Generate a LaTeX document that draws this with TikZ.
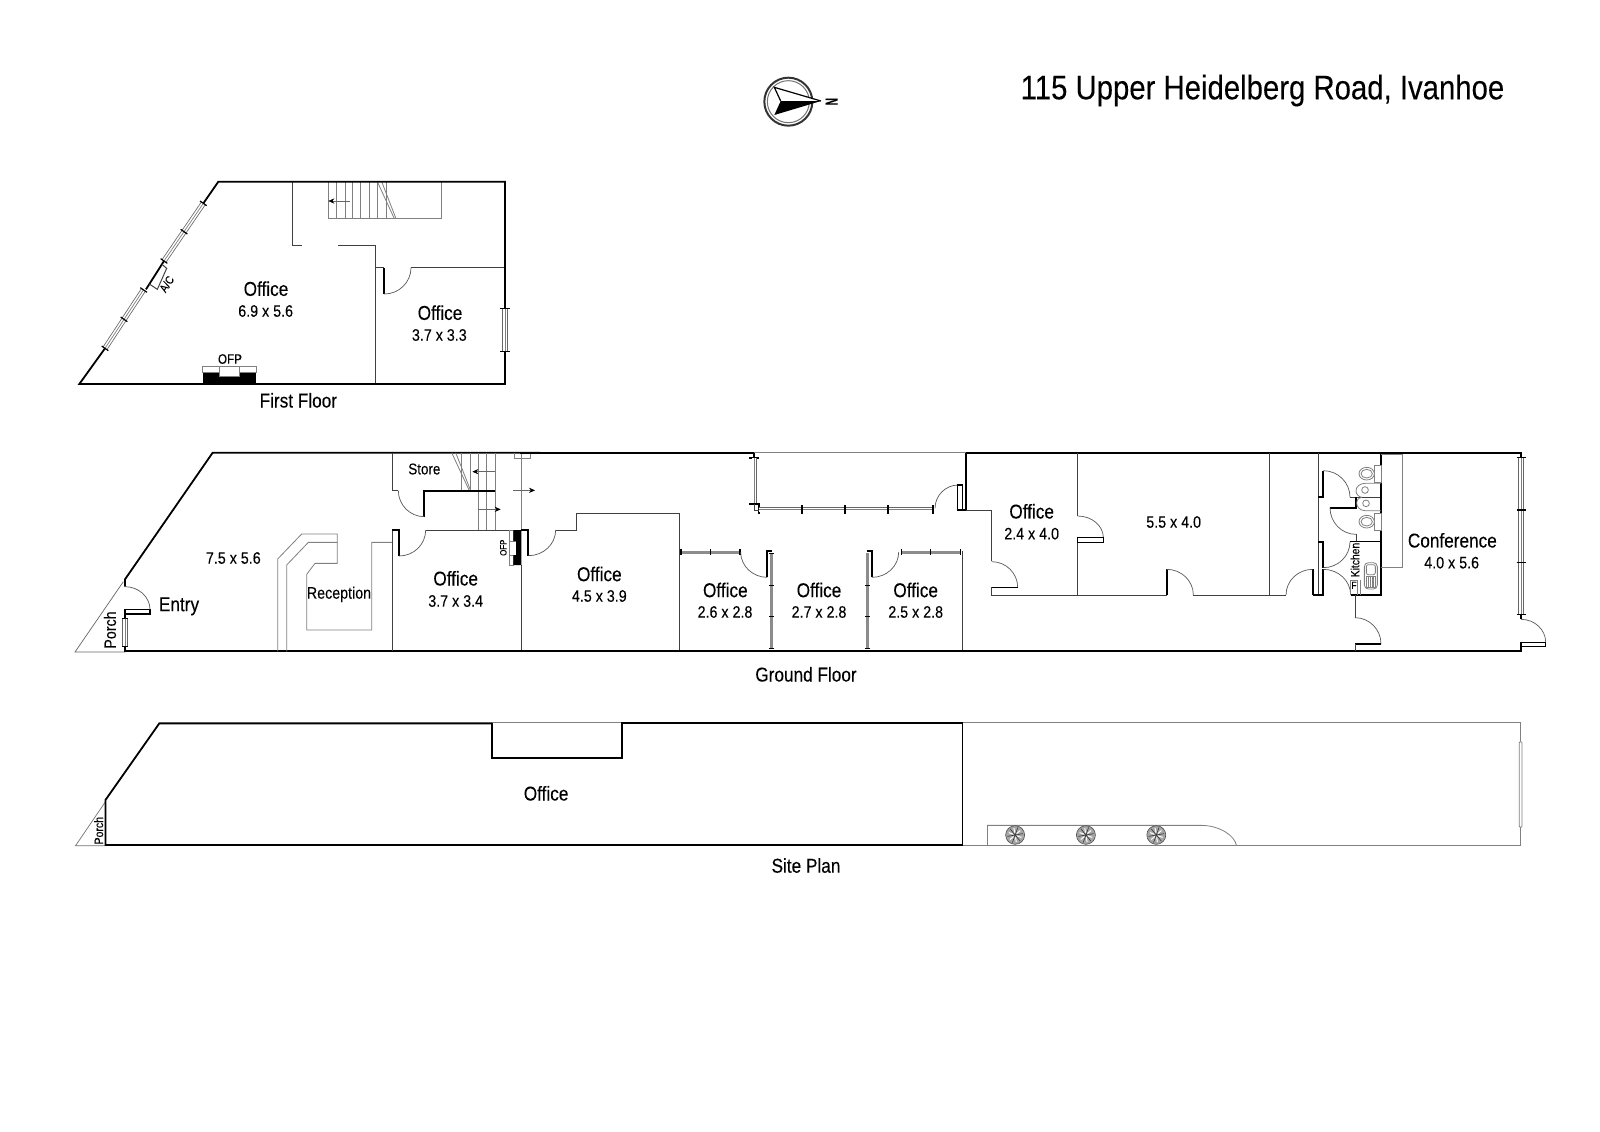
\documentclass[tikz,border=0pt]{standalone}
\usepackage{fontspec}
\setmainfont[FakeStretch=0.86,FakeBold=0.12]{Liberation Sans}
\usetikzlibrary{calc,arrows.meta}
\tikzset{
 zm/.style n args={4}{shift={(#1,#2)},x=#3pt,y=-#4pt},
 wall/.style={draw=black,line width=0.9pt,line join=miter},
 thin wall/.style={draw=black!75,line width=0.5pt},
 faint/.style={draw=black!50,line width=0.4pt},
 arcl/.style={draw=black!65,line width=0.35pt},
 tickl/.style={draw=black,line width=0.6pt},
 winb/.style={draw=black!60,line width=0.4pt,double=white,double distance=1.9pt},
 winc/.style={draw=black!50,line width=0.35pt},
 winf/.style={draw=black!45,line width=1.5pt},
 leaf/.style={draw=black,line width=0.7pt,fill=white},
 arrowl/.style={draw=black!60,line width=0.3pt,-{Stealth[length=3pt,width=2.6pt,black]}},
 lab/.style={inner sep=0pt,font=\fontsize{10}{11}\selectfont},
 dimn/.style={inner sep=0pt,font=\fontsize{8.3}{9}\selectfont},
 smalll/.style={inner sep=0pt,font=\fontsize{8.3}{9}\selectfont},
 tiny l/.style={inner sep=0pt,font=\fontsize{5.8}{7}\selectfont},
}
\newcommand\qa[3]{\draw[arcl] (#1) .. controls ($(#1)!0.5523!(#2)$) and ($(#3)!0.5523!(#2)$) .. (#3);}
\newcommand\win[2]{\draw[winb] (#1) -- (#2); \draw[winc] (#1) -- (#2);}
\begin{document}
\begin{tikzpicture}[x=0.5pt,y=-0.5pt]
\useasboundingbox (0,0) rectangle (1600,1131);
\fill[white] (0,0) rectangle (1600,1131);
% title
\node[inner sep=0pt,font=\fontsize{17.05}{18}\selectfont] (title) at (1262.5,90.5) {115 Upper Heidelberg Road, Ivanhoe};
% compass
\begin{scope}[zm={740}{50}{0.16667}{0.16667}]
\draw[draw=black!80,line width=1pt] (145,155) circle[radius=72];
\draw[draw=black!55,line width=0.5pt] (145,155) circle[radius=63];
\fill[white] (243,153) -- (103,112) -- (122,153) -- cycle;
\draw[black,line width=0.6pt] (122,153) -- (103,112) -- (243,153);
\fill[black] (243,153) -- (122,153) -- (103,195) -- cycle;
\node[inner sep=0pt,rotate=90,xscale=0.67,font=\fontsize{8.8}{10}\bfseries\selectfont] (north) at (275,155) {N};
\end{scope}
% ---------- First floor
\begin{scope}[zm={60}{160}{0.16667}{0.16667}]
\draw[faint] (805,65) -- (805,176) -- (1145,176) -- (1145,65);
\foreach \x in {830,855,878,902,928,952,978} \draw[faint] (\x,65) -- (\x,176);
\draw[faint] (952,65) -- (1003,176);
\draw[faint] (965,65) -- (1008,176);
\draw[arrowl] (870,123) -- (805,123);
\draw[thin wall] (697,65) -- (697,257) -- (725,257);
\draw[thin wall] (835,257) -- (947,257) -- (947,672);
\draw[thin wall] (947,323) -- (973,323);
\draw[thin wall] (1053,323) -- (1335,323);
\draw[wall] (973,323) -- (973,402);
\qa{973,402}{1053,402}{1053,323}
% outer
\draw[wall] (430,130) -- (475,65) -- (1335,65) -- (1335,445);
\draw[wall] (1335,575) -- (1335,672) -- (58,672) -- (135,565);
\draw[wall] (312,303) -- (258,388);
\win{430,130}{312,303}
\win{250,390}{135,565}
\foreach \a/\b/\c/\d in {420/123/440/137, 362/208/382/222, 302/296/322/310, 241/383/261/397, 182/471/202/485, 125/558/145/572} \draw[tickl] (\a,\b) -- (\c,\d);
\draw[thin wall] (306,313) -- (320,325) -- (292,388) -- (268,372);
\node[tiny l,rotate=57] (ac) at (320,372) {A/C};
\draw[winb] (1335,445) -- (1335,575);
\draw[winc] (1335,445) -- (1335,575);
\draw[tickl] (1320,445) -- (1350,445);
\draw[tickl] (1320,575) -- (1350,575);
% fireplace
\fill[black] (430,636) rectangle (588,672);
\draw[faint,fill=white] (428,618) rectangle (590,636);
\draw[faint,fill=white] (478,618) rectangle (538,648);
\node[inner sep=0pt,font=\fontsize{6.8}{8}\selectfont] (ofp1) at (510,597) {OFP};
\node[lab] (o1) at (618,386) {Office};
\node[dimn] (d1) at (617,453) {6.9 x 5.6};
\node[lab] (o2) at (1140,458) {Office};
\node[dimn] (d2) at (1138,525) {3.7 x 3.3};
\node[lab] (ff) at (715,721) {First Floor};
\end{scope}
% ---------- Ground floor, left part
\begin{scope}[zm={60}{440}{0.16667}{0.16667}]
\draw[draw=black!60,line width=0.35pt] (190,425) -- (45,636) -- (195,636);
\draw[wall] (195,440) -- (195,418) -- (458,38) -- (1440,38);
\draw[wall] (195,620) -- (195,634) -- (1440,634);
\win{195,535}{195,620}
\draw[tickl] (186,536) -- (204,536);
\draw[tickl] (186,620) -- (204,620);
\draw[leaf] (195,535) -- (195,509) -- (270,509) -- (270,522) -- (195,522);
\qa{195,440}{270,440}{270,509}
% reception
\draw[faint] (653,634) -- (653,357) -- (725,282) -- (832,282) -- (832,370) -- (765,370) -- (740,403) -- (740,570) -- (935,570) -- (935,307) -- (997,307);
\draw[faint] (680,634) -- (680,375) -- (745,307) -- (832,307);
% store
\draw[faint] (1205,38) -- (1205,152);
\draw[faint] (1230,38) -- (1230,152);
\draw[faint] (1175,38) -- (1228,152);
\draw[faint] (1187,38) -- (1232,152);
\foreach \x in {1255,1280,1305} \draw[faint] (\x,38) -- (\x,270);
\draw[arrowl] (1305,95) -- (1237,95);
\draw[arrowl] (1255,208) -- (1322,208);
\draw[faint] (1384,38) -- (1384,270);
\draw[faint] (1362,40) -- (1362,55) -- (1412,55) -- (1412,40);
\draw[arrowl] (1360,151) -- (1425,151);
\draw[thin wall] (997,38) -- (997,152) -- (1015,152);
\draw[wall] (1093,230) -- (1093,152) -- (1305,152);
\qa{1015,152}{1015,230}{1093,230}
% office 3.7x3.4
\draw[thin wall] (997,270) -- (997,634);
\draw[wall] (997,270) -- (1017,270) -- (1017,348);
\qa{1017,348}{1097,348}{1097,270}
\draw[thin wall] (1097,270) -- (1405,270);
\draw[thin wall] (1384,375) -- (1384,634);
\draw[faint,fill=white] (1348,272) rectangle (1360,375);
\draw[faint,fill=white] (1348,303) rectangle (1368,345);
\fill[black] (1360,270) -- (1384,270) -- (1384,375) -- (1360,375) -- (1360,345) -- (1368,345) -- (1368,303) -- (1360,303) -- cycle;
\draw[wall] (1384,270) -- (1405,270) -- (1405,348);
\node[inner sep=0pt,rotate=90,font=\fontsize{4.6}{6}\selectfont] (ofp2) at (1330,323) {OFP};
\node[dimn] (d3) at (520,354) {7.5 x 5.6};
\node[lab] (entry) at (357,499) {Entry};
\node[smalll,rotate=90] (porch1) at (150,570) {Porch};
\node[smalll] (recep) at (837,463) {Reception};
\node[inner sep=0pt,font=\fontsize{7.8}{9}\selectfont] (store) at (1093,87) {Store};
\node[lab] (o3) at (1187,415) {Office};
\node[dimn] (d4) at (1187,483) {3.7 x 3.4};
\end{scope}
% ---------- Ground floor, middle part
\begin{scope}[zm={520}{440}{0.16667}{0.16667}]
\qa{25,347}{107,347}{107,270}
\draw[thin wall] (107,270) -- (168,270) -- (168,220) -- (478,220) -- (478,634);
\draw[wall] (0,38) -- (703,38) -- (703,55);
\draw[wall] (0,634) -- (1440,634);
\draw[faint] (703,36) -- (1338,36);
\draw[wall] (688,55) -- (716,55);
\draw[winb] (703,55) -- (703,190);
\draw[winc] (703,55) -- (703,190);
\draw[wall] (688,191) -- (716,191) -- (716,222);
\draw[thin wall] (703,191) -- (703,210) -- (716,210);
\draw[winb] (716,209) -- (1238,209);
\draw[winc] (716,209) -- (1238,209);
\foreach \x in {846,975,1105,1238} \draw[wall] (\x,195) -- (\x,222);
\qa{1245,205}{1245,135}{1315,135}
\draw[wall] (1338,38) -- (1440,38);
\draw[wall] (1338,38) -- (1338,210);
\draw[leaf] (1313,135) rectangle (1327,210);
\draw[wall] (1313,210) -- (1338,210);
\draw[thin wall] (1338,210) -- (1415,210) -- (1415,363);
% partitions
\draw[winf] (483,336) -- (660,336);
\draw[winf] (1145,336) -- (1322,336);
\foreach \x in {483,571,660,1145,1232,1322} \draw[tickl] (\x,327) -- (\x,345);
\qa{662,336}{662,412}{742,412}
\draw[wall] (742,412) -- (742,334) -- (756,334);
\draw[winf] (755,340) -- (755,628);
\draw[winf] (1043,340) -- (1043,628);
\foreach \x in {755,1043} \foreach \y in {437,530,625} \draw[tickl] (\x-7,\y) -- (\x+7,\y);
\draw[tickl] (748,340) -- (762,340);
\draw[wall] (1056,412) -- (1056,334) -- (1042,334);
\qa{1056,412}{1136,412}{1136,336}
\draw[thin wall] (1328,334) -- (1328,634);
\node[lab] (o4) at (238,402) {Office};
\node[dimn] (d5) at (238,468) {4.5 x 3.9};
\node[lab] (o5) at (616,450) {Office};
\node[dimn] (d6) at (615,516) {2.6 x 2.8};
\node[lab] (o6) at (897,450) {Office};
\node[dimn] (d7) at (897,516) {2.7 x 2.8};
\node[lab] (o7) at (1187,450) {Office};
\node[dimn] (d8) at (1187,516) {2.5 x 2.8};
\node[lab] (gf) at (858,703) {Ground Floor};
\end{scope}
% ---------- Ground floor, middle right
\begin{scope}[zm={960}{440}{0.16667}{0.16667}]
\draw[wall] (20,38) -- (1200,38);
\draw[wall] (0,634) -- (1200,634);
\qa{95,365}{173,365}{173,442}
\draw[leaf] (95,442) -- (173,442);
\draw[thin wall] (95,442) -- (95,465) -- (620,465);
\draw[wall] (620,465) -- (620,388);
\qa{620,388}{700,388}{700,465}
\draw[thin wall] (700,465) -- (978,465);
\draw[thin wall] (353,38) -- (353,228);
\qa{353,228}{430,228}{430,293}
\draw[leaf] (353,293) rectangle (430,308);
\draw[thin wall] (353,308) -- (353,465);
\draw[thin wall] (928,38) -- (928,465);
\node[lab] (o8) at (215,214) {Office};
\node[dimn] (d9) at (215,281) {2.4 x 4.0};
\node[dimn] (d10) at (641,246) {5.5 x 4.0};
\end{scope}
% ---------- Ground floor, right part
\begin{scope}[zm={1280}{440}{0.16667}{0.16667}]
\draw[wall] (0,38) -- (723,38) -- (723,52);
\draw[wall] (0,634) -- (723,634) -- (723,620);
\draw[thin wall] (115,38) -- (115,465);
\draw[wall] (115,172) -- (130,172) -- (130,92);
\qa{130,92}{210,92}{210,172}
\draw[thin wall] (210,172) -- (303,172);
\draw[wall] (150,203) -- (228,203) -- (228,172);
\qa{150,203}{150,283}{228,283}
\draw[thin wall] (228,283) -- (228,305);
\draw[wall] (115,305) -- (130,305) -- (130,383);
\qa{130,383}{210,383}{210,305}
\draw[draw=black,line width=0.6pt] (210,305) -- (303,305);
\draw[wall] (98,465) -- (98,388);
\qa{18,465}{18,388}{98,388}
\draw[thin wall] (0,465) -- (18,465);
\draw[wall] (98,465) -- (130,465) -- (130,388);
\qa{130,388}{212,388}{212,465}
\draw[draw=black,line width=0.6pt] (303,38) -- (303,465) -- (212,465);
\draw[faint] (303,42) -- (367,42) -- (367,382) -- (303,382);
% toilets
\draw[faint,fill=white] (283,75) rectangle (303,127);
\draw[faint,fill=white] (260,101) ellipse[x radius=23,y radius=19];
\draw[faint] (260,101) ellipse[x radius=17,y radius=13];
\draw[faint,fill=white] (283,220) rectangle (303,270);
\draw[faint,fill=white] (260,245) ellipse[x radius=23,y radius=19];
\draw[faint] (260,245) ellipse[x radius=17,y radius=13];
% basins
\draw[faint] (303,130) -- (255,130) .. controls (240,130) and (228,140) .. (228,152) .. controls (228,162) and (235,170) .. (245,172);
\draw[faint] (255,150) circle[radius=10];
\draw[faint] (303,212) -- (255,212) .. controls (240,212) and (230,200) .. (230,190) .. controls (230,180) and (235,174) .. (245,172);
\draw[faint] (258,190) circle[radius=10];
% kitchen
\draw[faint] (212,465) -- (212,420) -- (232,420) -- (232,465);
\draw[faint] (240,465) -- (240,420);
\draw[faint,rounded corners=2pt] (253,368) rectangle (292,447);
\draw[faint,rounded corners=1pt] (259,374) rectangle (286,404);
\draw[faint] (259,410) rectangle (286,442);
\foreach \x in {264,270,276,281} \draw[faint] (\x,410) -- (\x,442);
\node[inner sep=0pt,rotate=90,font=\fontsize{6}{8}\selectfont] (kitchen) at (225,360) {Kitchen};
\node[inner sep=0pt,font=\fontsize{5}{6}\selectfont] (fridge) at (222,436) {F};
\draw[thin wall] (225,465) -- (225,533);
\qa{225,533}{303,533}{303,612}
\draw[wall] (225,612) -- (303,612);
\draw[thin wall] (225,612) -- (225,634);
% right window
\win{723,52}{723,523}
\foreach \y in {52,210,367,523} \draw[tickl] (710,\y) -- (738,\y);
\draw[wall] (723,523) -- (723,538);
\qa{723,538}{797,538}{797,607}
\draw[leaf] (723,607) rectangle (797,620);
\node[lab] (conf) at (517,301) {Conference};
\node[dimn] (d11) at (515,368) {4.0 x 5.6};
\end{scope}
% ---------- Site plan
\begin{scope}[zm={60}{710}{0.21044}{0.16667}]
\draw[draw=black!55,line width=0.35pt] (108,275) -- (37,407) -- (108,407);
\draw[faint] (1027,37) -- (1335,37);
\draw[wall] (1027,40) -- (236,40) -- (108,270) -- (108,405) -- (2091,405);
\draw[wall] (1027,40) -- (1027,144) -- (1335,144) -- (1335,40) -- (2091,40);
\node[inner sep=0pt,rotate=90,font=\fontsize{6.1}{8}\selectfont] (porch2) at (92,362) {Porch};
\node[lab] (o9) at (1155,250) {Office};
\end{scope}
\begin{scope}[zm={940}{710}{0.19771}{0.16667}]
\draw[faint] (57,38) -- (1468,38) -- (1468,407) -- (57,407);
\draw[wall] (0,40) -- (57,40) -- (57,405) -- (0,405);
\draw[faint,fill=white,rounded corners=0.5pt] (1465,95) rectangle (1472,352);
\draw[faint] (120,407) -- (120,346) -- (660,346) .. controls (705,346) and (745,375) .. (750,407);
\foreach \x in {190,369,547} {
 \draw[draw=black!70,fill=black!35,line width=0.3pt] (\x,375) ellipse[x radius=24,y radius=28];
 \foreach \a in {20,80,140,200,260,320} \draw[white,line width=0.5pt] (\x,375) ++(\a:5 and 7) -- ++(\a:12 and 14);
 \foreach \a in {50,110,170,230,290,350} \draw[black!80,line width=0.3pt] (\x,375) -- ++(\a:20 and 24);
}
\end{scope}
\node[lab] (sp) at (806,865.5) {Site Plan};
\end{tikzpicture}
\end{document}
